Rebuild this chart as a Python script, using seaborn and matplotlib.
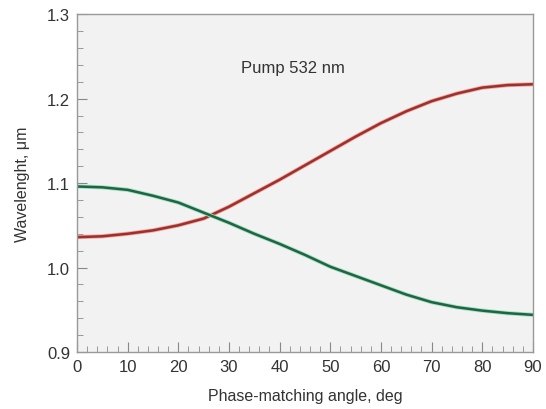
import numpy as np
import pandas as pd
import matplotlib
matplotlib.use("Agg")
import matplotlib.pyplot as plt
import matplotlib.patheffects as pe
from matplotlib.ticker import MultipleLocator
import seaborn as sns

angle = [0, 5, 10, 15, 20, 25, 30, 35, 40, 45, 50, 55, 60, 65, 70, 75, 80, 85, 90]
signal = [1.036, 1.037, 1.040, 1.044, 1.050, 1.058, 1.072, 1.088, 1.104, 1.121,
          1.138, 1.155, 1.171, 1.185, 1.197, 1.206, 1.213, 1.216, 1.217]
idler = [1.096, 1.095, 1.092, 1.085, 1.077, 1.065, 1.053, 1.040, 1.028, 1.015,
         1.001, 0.990, 0.979, 0.968, 0.959, 0.953, 0.949, 0.946, 0.944]
xticks = [0, 10, 20, 30, 40, 50, 60, 70, 80, 90]
yticks = [0.9, 1.0, 1.1, 1.2, 1.3]

df = pd.DataFrame({
    "angle": angle + angle,
    "wl": signal + idler,
    "wave": ["signal"] * len(angle) + ["idler"] * len(angle),
})

sns.set_style("white")
plt.rcParams['font.family'] = ['Liberation Sans', 'DejaVu Sans']

fig = plt.figure(figsize=(5.46, 4.10), dpi=100)
ax = fig.add_axes([0.141, 0.139, 0.835, 0.824])
ax.set_facecolor("#f2f2f2")

sns.lineplot(data=df, x="angle", y="wl", hue="wave",
             palette={"signal": "#9e2f2c", "idler": "#1d6643"},
             linewidth=1.8, legend=False, ax=ax)
halo = {"signal": "#eea8a0", "idler": "#a5dcc2"}
for line, key in zip(ax.get_lines(), ["signal", "idler"]):
    line.set_path_effects([pe.Stroke(linewidth=3.0, foreground=halo[key]), pe.Normal()])

ax.set_xlim(0, 90)
ax.set_ylim(0.9, 1.3)
ax.set_xticks(xticks)
ax.set_yticks(yticks)
ax.set_yticklabels([f"{v:.1f}" for v in yticks])
ax.xaxis.set_minor_locator(MultipleLocator(2))
ax.yaxis.set_minor_locator(MultipleLocator(0.02))
ax.tick_params(axis="both", which="both", bottom=True, left=True, top=False, right=False)
ax.tick_params(axis="both", which="major", direction="in", length=7, width=0.8,
               color="#888888", labelsize=12, labelcolor="#333333", pad=5)
ax.tick_params(axis="both", which="minor", direction="in", length=4, width=0.7,
               color="#999999")

for s in ax.spines.values():
    s.set_color("#999999")
    s.set_linewidth(1.0)
    s.set_visible(True)

ax.set_xlabel("Phase-matching angle, deg", fontsize=11.5, color="#333333", labelpad=10)
ax.set_ylabel("Wavelenght, μm", fontsize=11.5, color="#333333", labelpad=12)
ax.text(42.6, 1.237, "Pump 532 nm", ha="center", va="center", fontsize=12, color="#333333")

fig.savefig("out.png", dpi=100, facecolor="white")
